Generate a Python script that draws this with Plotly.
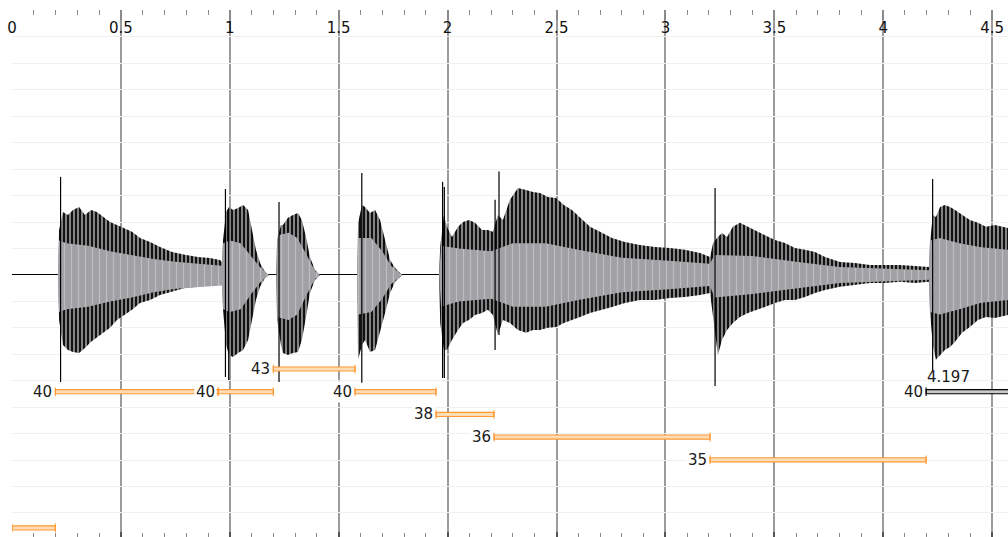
import plotly.graph_objects as go

# ---- time ruler -----------------------------------------------------------
T_END = 4.573

# ---- waveform: outer peak envelope (amplitude), one block per sounding run --
env1_t = [0.211, 0.216, 0.234, 0.257, 0.280, 0.308, 0.335, 0.363, 0.390, 0.418,
          0.450, 0.482, 0.514, 0.551, 0.588, 0.634, 0.680, 0.735, 0.794, 0.854,
          0.909, 0.955, 0.964,
          0.969, 0.983, 0.996, 1.015, 1.038, 1.061, 1.084, 1.102, 1.120, 1.139,
          1.162, 1.180]
env1_top = [0.0, 0.170, 0.238, 0.227, 0.246, 0.257, 0.227, 0.246, 0.238, 0.219,
            0.200, 0.189, 0.178, 0.163, 0.140, 0.125, 0.106, 0.087, 0.076, 0.068,
            0.064, 0.057, 0.049,
            0.132, 0.238, 0.257, 0.246, 0.253, 0.265, 0.246, 0.170, 0.095, 0.045,
            0.011, 0.0]
env1_bot = [0.0, -0.170, -0.265, -0.284, -0.291, -0.295, -0.276, -0.253, -0.234, -0.219,
            -0.200, -0.170, -0.151, -0.132, -0.106, -0.095, -0.076, -0.064, -0.049, -0.045,
            -0.038, -0.030, -0.026,
            -0.132, -0.265, -0.303, -0.310, -0.295, -0.284, -0.246, -0.170, -0.095, -0.045,
            -0.011, 0.0]

env2_t = [1.214, 1.217, 1.235, 1.244, 1.267, 1.290, 1.313, 1.331, 1.350, 1.368, 1.391, 1.414]
env2_top = [0.0, 0.132, 0.189, 0.189, 0.216, 0.227, 0.234, 0.208, 0.144, 0.068, 0.019, 0.0]
env2_bot = [0.0, -0.170, -0.265, -0.295, -0.303, -0.295, -0.291, -0.246, -0.159, -0.068, -0.019, 0.0]

env3_t = [1.584, 1.589, 1.607, 1.621, 1.644, 1.667, 1.690, 1.713, 1.736, 1.759, 1.791]
env3_top = [0.0, 0.197, 0.265, 0.257, 0.234, 0.246, 0.208, 0.132, 0.057, 0.026, 0.0]
env3_bot = [0.0, -0.321, -0.265, -0.246, -0.291, -0.284, -0.219, -0.144, -0.068, -0.026, 0.0]

env4_t = [1.961, 1.966, 1.983, 1.997, 2.020, 2.048, 2.071, 2.098, 2.126, 2.158,
          2.185, 2.208, 2.231, 2.254, 2.286, 2.323, 2.360, 2.392, 2.424, 2.461,
          2.498, 2.534, 2.571, 2.608, 2.654, 2.700, 2.755, 2.814, 2.883, 2.952,
          3.021, 3.090, 3.159, 3.205, 3.219, 3.241, 3.260, 3.283, 3.310, 3.342,
          3.379, 3.416, 3.457, 3.503, 3.549, 3.595, 3.641, 3.687, 3.733, 3.802,
          3.871, 3.939, 4.008, 4.077, 4.146, 4.210, 4.215, 4.228, 4.242, 4.261,
          4.283, 4.307, 4.330, 4.362, 4.398, 4.435, 4.472, 4.513, 4.573]
env4_top = [0.0, 0.106, 0.227, 0.182, 0.144, 0.182, 0.200, 0.208, 0.197, 0.170,
            0.170, 0.163, 0.227, 0.208, 0.284, 0.329, 0.321, 0.314, 0.310, 0.295,
            0.291, 0.265, 0.246, 0.219, 0.182, 0.163, 0.140, 0.125, 0.113, 0.106,
            0.102, 0.095, 0.083, 0.068, 0.121, 0.144, 0.159, 0.144, 0.182, 0.197,
            0.182, 0.170, 0.151, 0.132, 0.121, 0.102, 0.095, 0.087, 0.068, 0.049,
            0.045, 0.038, 0.038, 0.038, 0.034, 0.030, 0.125, 0.227, 0.219, 0.257,
            0.265, 0.257, 0.246, 0.227, 0.208, 0.197, 0.182, 0.189, 0.178]
env4_bot = [0.0, -0.182, -0.284, -0.284, -0.246, -0.208, -0.182, -0.170, -0.151, -0.144,
            -0.132, -0.151, -0.227, -0.170, -0.182, -0.208, -0.219, -0.208, -0.208, -0.200,
            -0.197, -0.182, -0.170, -0.159, -0.144, -0.132, -0.121, -0.106, -0.095, -0.095,
            -0.087, -0.083, -0.076, -0.068, -0.159, -0.303, -0.246, -0.208, -0.182, -0.159,
            -0.144, -0.132, -0.121, -0.106, -0.095, -0.095, -0.083, -0.068, -0.057, -0.045,
            -0.038, -0.030, -0.030, -0.026, -0.030, -0.026, -0.144, -0.265, -0.321, -0.303,
            -0.284, -0.272, -0.253, -0.219, -0.197, -0.170, -0.159, -0.163, -0.151]

# ---- waveform: mean (grey core) envelope ----------------------------------
core1_t = [0.211, 0.216, 0.25, 0.35, 0.45, 0.55, 0.65, 0.75, 0.85, 0.964,
           0.969, 1.00, 1.05, 1.10, 1.14, 1.18]
core1_top = [0.0, 0.13, 0.12, 0.11, 0.09, 0.075, 0.06, 0.05, 0.042, 0.035,
             0.12, 0.13, 0.12, 0.07, 0.028, 0.0]
core1_bot = [0.0, -0.14, -0.13, -0.12, -0.10, -0.085, -0.065, -0.052, -0.045, -0.04,
             -0.13, -0.14, -0.13, -0.07, -0.028, 0.0]

core2_t = [1.214, 1.22, 1.27, 1.31, 1.35, 1.39, 1.414]
core2_top = [0.0, 0.15, 0.16, 0.14, 0.08, 0.016, 0.0]
core2_bot = [0.0, -0.16, -0.17, -0.15, -0.08, -0.016, 0.0]

core3_t = [1.584, 1.59, 1.65, 1.70, 1.74, 1.791]
core3_top = [0.0, 0.14, 0.14, 0.09, 0.035, 0.0]
core3_bot = [0.0, -0.15, -0.14, -0.09, -0.035, 0.0]

core4_t = [1.961, 1.97, 2.05, 2.20, 2.30, 2.45, 2.60, 2.80, 3.00, 3.205,
           3.225, 3.40, 3.60, 3.80, 4.21, 4.215, 4.26, 4.35, 4.45, 4.573]
core4_top = [0.0, 0.11, 0.10, 0.09, 0.12, 0.12, 0.095, 0.065, 0.055, 0.042,
             0.075, 0.072, 0.05, 0.03, 0.018, 0.13, 0.14, 0.12, 0.105, 0.095]
core4_bot = [0.0, -0.12, -0.10, -0.09, -0.12, -0.12, -0.095, -0.065, -0.055, -0.042,
             -0.085, -0.072, -0.05, -0.03, -0.018, -0.14, -0.15, -0.13, -0.105, -0.095]

# ---- isolated transient peaks -----------------------------------------------
spike_t = [0.223, 0.980, 0.995, 1.226, 1.606, 1.977, 1.985, 2.218, 2.236, 3.228, 4.227]
spike_top = [0.371, 0.325, 0.250, 0.276, 0.386, 0.352, 0.333, 0.284, 0.391, 0.329, 0.363]
spike_bot = [-0.405, -0.386, -0.397, -0.405, -0.408, -0.390, -0.390, -0.284, -0.227, -0.420, -0.359]

# ---- note layer -------------------------------------------------------------
note_start = [0.0, 0.199, 0.947, 1.200, 1.575, 1.947, 2.213, 3.205, 4.197]
note_end = [0.199, 0.947, 1.200, 1.575, 1.947, 2.213, 3.205, 4.197, 4.750]
note_pitch = [None, 40, 40, 43, 40, 38, 36, 35, 40]
selected_note = 8

# lanes: distinct pitches top-down, unpitched notes in the lowest lane
pitches_desc = sorted({p for p in note_pitch if p is not None}, reverse=True)
lane_of = {p: i for i, p in enumerate(pitches_desc)}
UNPITCHED_LANE = 7
note_lane = [lane_of[p] if p is not None else UNPITCHED_LANE for p in note_pitch]

ORANGE = "#ff9933"
ORANGE_FILL = "#ffdcb4"
FONT = "DejaVu Sans"


def band(ts, tops, bots):
    return list(ts) + list(ts[::-1]), list(tops) + list(bots[::-1])


def joined(blocks):
    xs, ys = [], []
    for ts, tops, bots in blocks:
        bx, by = band(ts, tops, bots)
        xs += bx + [None]
        ys += by + [None]
    return xs, ys


fig = go.Figure()

# peak envelope: black sample strokes with thin white gaps
outer_x, outer_y = joined([(env1_t, env1_top, env1_bot), (env2_t, env2_top, env2_bot),
                           (env3_t, env3_top, env3_bot), (env4_t, env4_top, env4_bot)])
fig.add_trace(go.Scatter(
    x=outer_x, y=outer_y, mode="lines", fill="toself",
    line=dict(width=0, color="black"), fillcolor="black",
    fillpattern=dict(shape="|", fgcolor="#ffffff", bgcolor="#111111",
                     size=4, solidity=0.48),
    hoverinfo="skip"))

core_x, core_y = joined([(core1_t, core1_top, core1_bot), (core2_t, core2_top, core2_bot),
                         (core3_t, core3_top, core3_bot), (core4_t, core4_top, core4_bot)])
fig.add_trace(go.Scatter(
    x=core_x, y=core_y, mode="lines", fill="toself",
    line=dict(width=0, color="#a1a1a5"), fillcolor="#a1a1a5",
    fillpattern=dict(shape="|", fgcolor="#d9d9dc", bgcolor="#a1a1a5",
                     size=7, solidity=0.18),
    hoverinfo="skip"))

sx, sy = [], []
for t, a, b in zip(spike_t, spike_top, spike_bot):
    sx += [t, t, None]
    sy += [a, b, None]
fig.add_trace(go.Scatter(x=sx, y=sy, mode="lines",
                         line=dict(width=1.2, color="black"), hoverinfo="skip"))

# invisible carrier for the lower ruler
fig.add_trace(go.Scatter(x=[0], y=[0], xaxis="x2", yaxis="y", mode="markers",
                         marker=dict(opacity=0), hoverinfo="skip"))

# note bars
BAR_H = 0.09
CAP_H = 0.19
shapes = []
annotations = []
for i, (s, e, p, lane) in enumerate(zip(note_start, note_end, note_pitch, note_lane)):
    sel = i == selected_note
    edge = "#000000" if sel else ORANGE
    fill = "#c8c8c8" if sel else ORANGE_FILL
    shapes.append(dict(type="rect", xref="x", yref="y2", x0=s, x1=e,
                       y0=lane - BAR_H, y1=lane + BAR_H,
                       line=dict(color=edge, width=1.1), fillcolor=fill, layer="above"))
    for xc in (s, e):
        shapes.append(dict(type="line", xref="x", yref="y2", x0=xc, x1=xc,
                           y0=lane - CAP_H, y1=lane + CAP_H,
                           line=dict(color=edge, width=1.1), layer="above"))
    if p is not None:
        annotations.append(dict(x=s, y=lane, xref="x", yref="y2", text=str(p),
                                showarrow=False, xanchor="right", yanchor="middle",
                                xshift=-1, bgcolor="white", borderpad=1,
                                font=dict(family=FONT, size=15, color="#1a1a1a")))
    if sel:
        annotations.append(dict(x=s, y=lane, xref="x", yref="y2", text=f"{s:.3f}",
                                showarrow=False, xanchor="left", yanchor="middle",
                                yshift=15, xshift=-1,
                                font=dict(family=FONT, size=15, color="#1a1a1a")))

fig.update_layout(
    width=1008, height=537,
    margin=dict(l=12, r=0, t=10, b=0),
    paper_bgcolor="white", plot_bgcolor="white",
    showlegend=False,
    shapes=shapes, annotations=annotations,
    xaxis=dict(
        range=[0, T_END], side="top", anchor="y", tick0=0, dtick=0.5,
        ticks="inside", ticklen=10, tickwidth=1.5, tickcolor="#8a8a8a",
        ticklabelposition="inside", ticklabeloverflow="allow",
        ticklabelstandoff=2,
        tickfont=dict(family=FONT, size=15, color="#111111"),
        showgrid=True, gridcolor="#9b9b9b", gridwidth=1.5,
        zeroline=False, showline=False,
        minor=dict(dtick=0.1, ticks="inside", ticklen=5, tickcolor="#8a8a8a",
                   tickwidth=1, showgrid=False),
    ),
    xaxis2=dict(
        overlaying="x", matches="x", side="bottom", anchor="y",
        tick0=0, dtick=0.5, ticks="inside", ticklen=5, tickwidth=1.5,
        tickcolor="#555555", showticklabels=False, showgrid=False,
        zeroline=False, showline=False,
        minor=dict(dtick=0.1, ticks="inside", ticklen=4, tickcolor="#8a8a8a",
                   tickwidth=1, showgrid=False),
    ),
    yaxis=dict(
        range=[-0.991, 1.002], tick0=0, dtick=0.1,
        showgrid=True, gridcolor="#f0f0f0", gridwidth=1,
        zeroline=True, zerolinecolor="#000000", zerolinewidth=1,
        showticklabels=False, ticks="", showline=False,
    ),
    yaxis2=dict(
        overlaying="y", anchor="x", range=[7.401, -15.815],
        showgrid=False, zeroline=False, showticklabels=False, ticks="",
    ),
)

fig.write_html("out.html")
